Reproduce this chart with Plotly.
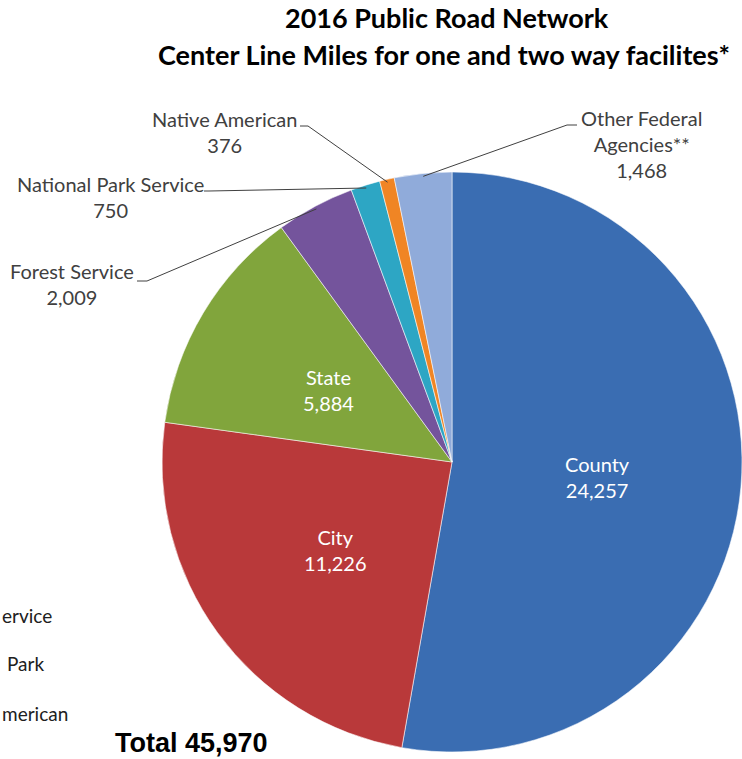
import math
import plotly.graph_objects as go

# ---- data ----
categories = ["County", "City", "State", "Forest Service", "National Park Service",
              "Native American", "Other Federal Agencies**"]
values = [24257, 11226, 5884, 2009, 750, 376, 1468]
colors = ["#3A6DB2", "#B9393A", "#81A53C", "#74549C", "#2DA6C4", "#F08524", "#90ABDA"]
total_label = "Total 45,970"
title_lines = ["2016 Public Road Network", "Center Line Miles for one and two way facilites*"]
legend_visible = ["ervice", "Park", "merican"]  # legend entries cut off at the left edge in the source

W, H = 742, 759
CX, CY, R = 452, 462, 290  # pie geometry in pixels


def px(x):
    return x / W


def py(y):
    return 1 - y / H


def fmt(v):
    return f"{v:,}"


fig = go.Figure(go.Pie(
    labels=categories, values=values, sort=False, direction="clockwise", rotation=0,
    marker=dict(colors=colors, line=dict(color="rgba(255,255,255,0.55)", width=1)),
    textinfo="none", showlegend=False,
    domain=dict(x=[px(CX - R), px(CX + R)], y=[py(CY + R), py(CY - R)]),
))

font_main = "Lato, 'Open Sans', sans-serif"
annotations = []
shapes = []

# title
annotations.append(dict(x=px(447), y=py(18), xref="paper", yref="paper", text="<b>" + title_lines[0] + "</b>",
                        showarrow=False, font=dict(family=font_main, size=27, color="#000"), xanchor="center", yanchor="middle"))
annotations.append(dict(x=px(444), y=py(55), xref="paper", yref="paper", text="<b>" + title_lines[1] + "</b>",
                        showarrow=False, font=dict(family=font_main, size=27, color="#000"), xanchor="center", yanchor="middle"))

# inside labels
inside_pos = {0: (597, 477), 1: (335, 550), 2: (328, 390)}
for i, (x, y) in inside_pos.items():
    annotations.append(dict(x=px(x), y=py(y), xref="paper", yref="paper",
                            text=f"{categories[i]}<br>{fmt(values[i])}", showarrow=False,
                            font=dict(family=font_main, size=20, color="white"), xanchor="center", yanchor="middle"))

# outside labels with leader lines
cum = [0]
for v in values:
    cum.append(cum[-1] + v)
tot = cum[-1]


def edge_point(i):
    frac = (cum[i] + values[i] / 2) / tot
    a = 2 * math.pi * frac
    r = R * 0.99
    return CX + r * math.sin(a), CY - r * math.cos(a)


outside = {
    3: dict(text="Forest Service<br>" + fmt(values[3]), pos=(72, 284), seg=(137, 147, 281)),
    4: dict(text="National Park Service<br>" + fmt(values[4]), pos=(110, 197), seg=(204, 209, 191)),
    5: dict(text="Native American<br>" + fmt(values[5]), pos=(224, 132), seg=(300, 308, 126)),
    6: dict(text="Other Federal<br>Agencies**<br>" + fmt(values[6]), pos=(641, 144), seg=(577, 567, 125)),
}
for i, d in outside.items():
    annotations.append(dict(x=px(d["pos"][0]), y=py(d["pos"][1]), xref="paper", yref="paper",
                            text=d["text"], showarrow=False,
                            font=dict(family=font_main, size=20, color="#404040"), xanchor="center", yanchor="middle"))
    x0, x1, yy = d["seg"]
    ex, ey = edge_point(i)
    shapes.append(dict(type="line", xref="paper", yref="paper", x0=px(x0), y0=py(yy), x1=px(x1), y1=py(yy),
                       line=dict(color="#404040", width=1)))
    shapes.append(dict(type="line", xref="paper", yref="paper", x0=px(x1), y0=py(yy), x1=px(ex), y1=py(ey),
                       line=dict(color="#404040", width=1)))

# partial legend remnants at the left edge
for txt, (xl, y) in zip(legend_visible, [(0, 615), (5, 663), (0, 713)]):
    annotations.append(dict(x=px(xl), y=py(y), xref="paper", yref="paper", text=txt, showarrow=False,
                            font=dict(family=font_main, size=19, color="#202020"), xanchor="left", yanchor="middle"))

# total
annotations.append(dict(x=px(113), y=py(743), xref="paper", yref="paper", text="<b>" + total_label + "</b>",
                        showarrow=False, font=dict(family="Liberation Sans, Arial, sans-serif", size=27, color="#000"),
                        xanchor="left", yanchor="middle"))

fig.update_layout(width=W, height=H, margin=dict(l=0, r=0, t=0, b=0),
                  paper_bgcolor="white", plot_bgcolor="white",
                  annotations=annotations, shapes=shapes)

fig.write_html("out.html", config={"displayModeBar": False},
               post_script="document.body.style.margin='0';document.body.style.overflow='hidden';")
